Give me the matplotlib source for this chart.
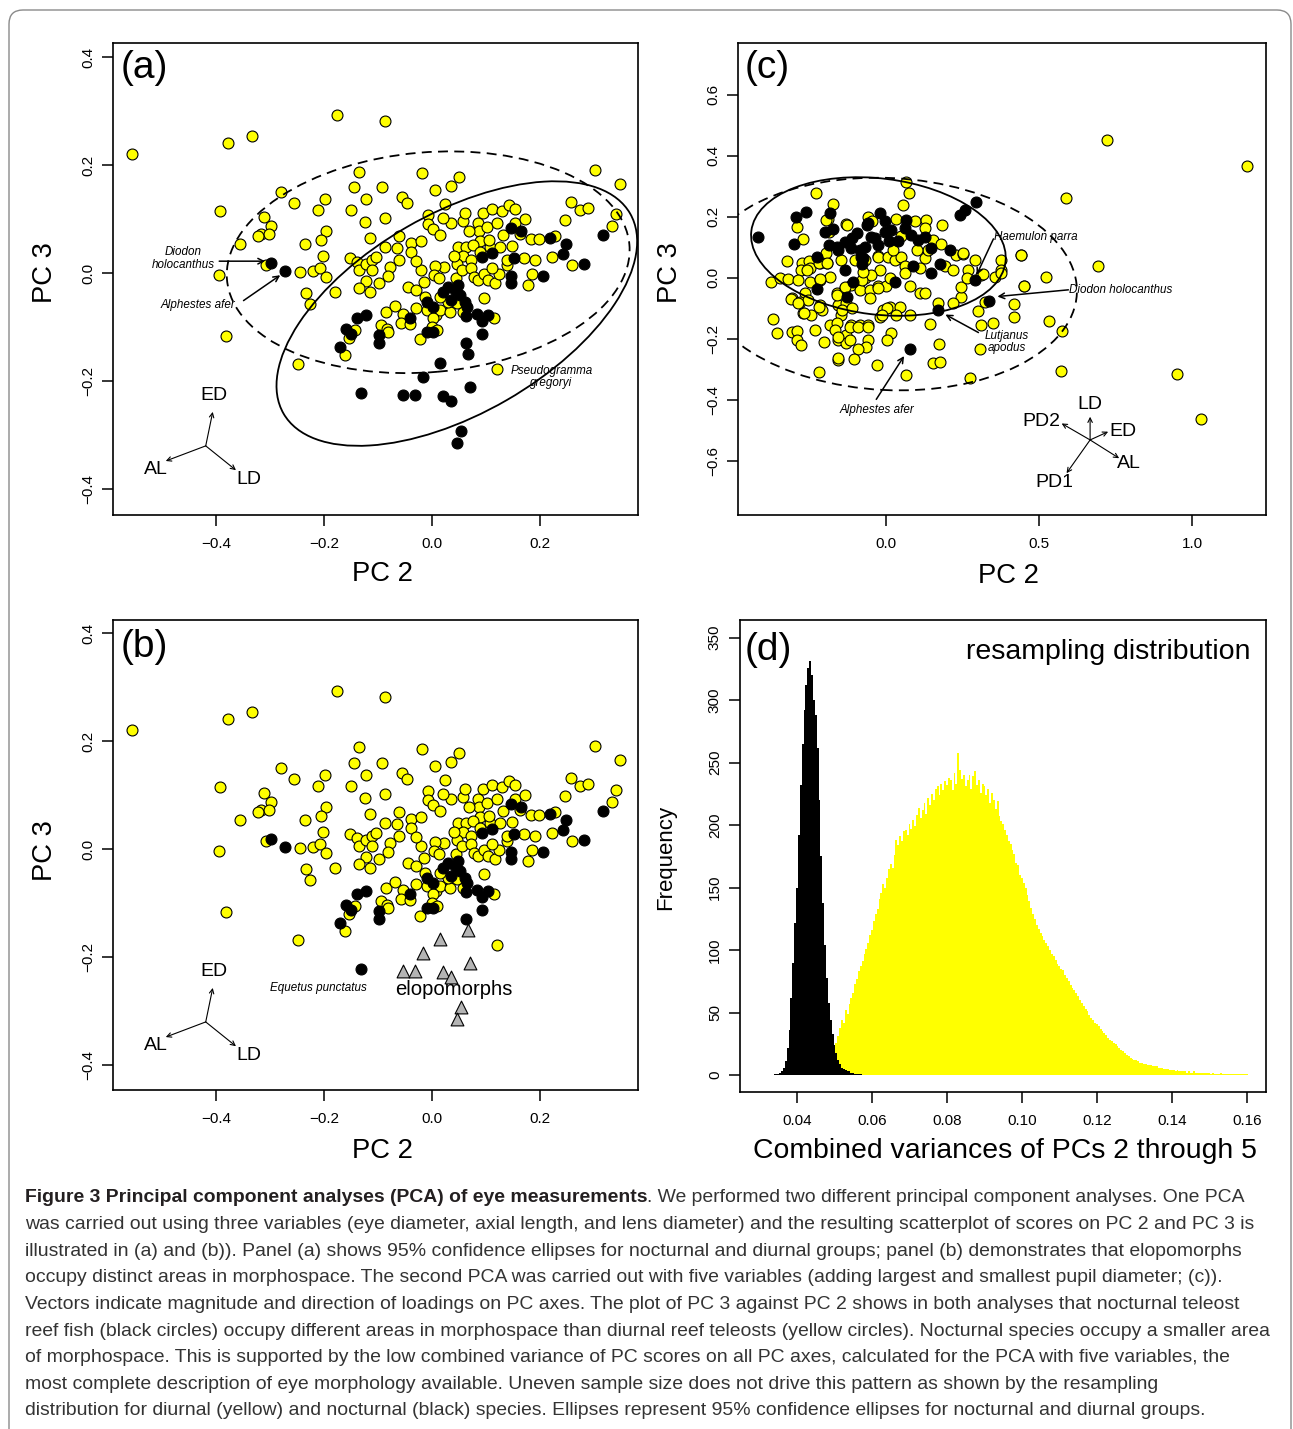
import numpy as np
import matplotlib
matplotlib.use("Agg")
import matplotlib.pyplot as plt
from matplotlib.patches import Ellipse, FancyBboxPatch
from matplotlib.transforms import IdentityTransform
from matplotlib import font_manager

plt.rcParams['font.family'] = ['Liberation Sans', 'DejaVu Sans']

# ---------------- data: PCA with three variables (panels a, b) ----------------
diurnal_a = [
    (-0.555, 0.220), (-0.377, 0.241), (-0.334, 0.254), (-0.176, 0.293), (-0.087, 0.281),
    (-0.135, 0.188), (-0.145, 0.159), (-0.093, 0.159), (-0.279, 0.150), (-0.256, 0.130),
    (-0.199, 0.137), (-0.122, 0.138), (-0.392, 0.115), (-0.212, 0.116), (-0.150, 0.117),
    (-0.312, 0.104), (-0.298, 0.088), (-0.317, 0.073), (-0.302, 0.072), (-0.322, 0.069),
    (-0.196, 0.078), (-0.205, 0.061), (-0.124, 0.094), (-0.087, 0.102), (-0.114, 0.065),
    (-0.355, 0.053), (-0.235, 0.053), (-0.201, 0.031), (-0.307, 0.014), (-0.245, 0.002),
    (-0.220, 0.004), (-0.207, 0.010), (-0.196, -0.008), (-0.395, -0.004), (-0.151, 0.027),
    (-0.138, 0.020), (-0.135, 0.005), (-0.122, 0.017), (-0.111, 0.025), (-0.104, 0.030),
    (-0.111, 0.006), (-0.087, 0.049), (-0.122, -0.015), (-0.136, -0.027), (-0.099, -0.018),
    (-0.114, -0.035), (-0.233, -0.037), (-0.226, -0.058), (-0.180, -0.035), (-0.382, -0.117),
    (-0.248, -0.169), (-0.143, -0.106), (-0.154, -0.120), (-0.161, -0.152), (-0.086, -0.072),
    (-0.095, -0.096), (-0.083, -0.103),
    (-0.018, 0.186), (0.050, 0.177), (0.036, 0.162), (0.006, 0.153), (0.302, 0.191), (0.349, 0.164),
    (-0.055, 0.141), (-0.047, 0.129), (-0.007, 0.107), (-0.007, 0.091), (0.002, 0.081),
    (0.015, 0.070), (0.035, 0.092), (0.057, 0.097), (0.086, 0.093), (0.087, 0.077),
    (0.095, 0.112), (0.111, 0.118), (0.130, 0.114), (0.143, 0.126), (0.153, 0.118),
    (0.102, 0.086), (0.153, 0.092), (0.088, 0.060), (-0.062, 0.069), (-0.038, 0.055),
    (-0.038, 0.039), (-0.065, 0.046), (-0.061, 0.025), (-0.077, 0.012), (-0.081, -0.006),
    (0.048, 0.049), (0.063, 0.049), (0.076, 0.052), (0.089, 0.039), (0.107, 0.048),
    (0.126, 0.048), (0.149, 0.050), (0.058, 0.031), (0.072, 0.024), (0.046, 0.017),
    (0.023, 0.012), (0.006, 0.013), (-0.020, 0.006), (-0.014, -0.016), (0.003, -0.004),
    (0.013, -0.009), (0.044, -0.009), (0.055, 0.006), (0.073, 0.009), (0.077, -0.007),
    (0.086, -0.013), (0.096, -0.002), (0.103, -0.013), (0.117, -0.019), (0.125, -0.002),
    (0.138, 0.015), (0.138, 0.024), (0.171, 0.027), (0.191, 0.025), (0.183, 0.063),
    (0.198, 0.063), (0.228, 0.069), (0.223, 0.030), (0.259, 0.014), (0.247, 0.098),
    (0.257, 0.131), (0.274, 0.117), (0.288, 0.120), (0.341, 0.109), (0.333, 0.087),
    (0.185, -0.001), (0.177, -0.023), (0.096, -0.046), (-0.044, -0.025), (-0.030, -0.031),
    (-0.013, -0.044), (-0.069, -0.061), (-0.053, -0.075), (-0.030, -0.065), (-0.010, -0.068),
    (0.008, -0.078), (0.015, -0.069), (0.033, -0.072), (0.057, -0.073), (0.046, -0.056),
    (0.030, -0.053), (0.015, -0.044), (-0.057, -0.093), (-0.041, -0.095), (-0.082, -0.109),
    (0.114, -0.084), (0.001, -0.084), (0.000, -0.099), (0.010, -0.106), (-0.023, -0.123),
    (0.120, -0.178), (0.020, 0.102), (0.062, 0.112), (0.120, 0.092), (0.131, 0.070),
    (0.163, 0.072), (0.105, 0.062), (0.040, 0.032), (-0.030, 0.022), (0.112, 0.010),
    (0.172, 0.100), (-0.020, 0.060), (0.025, 0.128), (0.068, 0.078),
]
nocturnal_a = [
    (-0.298, 0.018), (-0.273, 0.003), (-0.139, -0.083), (-0.123, -0.077), (-0.160, -0.103),
    (-0.150, -0.112), (-0.170, -0.136), (-0.098, -0.115), (-0.099, -0.129),
    (0.146, 0.083), (0.164, 0.078), (0.112, 0.038), (0.093, 0.029), (0.151, 0.027),
    (0.219, 0.064), (0.249, 0.054), (0.242, 0.035), (0.281, 0.017), (0.317, 0.071),
    (0.205, -0.005), (0.146, -0.006), (0.146, -0.018),
    (0.030, -0.025), (0.043, -0.031), (0.052, -0.041), (0.036, -0.050), (0.061, -0.053),
    (0.064, -0.062), (0.049, -0.022), (0.021, -0.035), (-0.010, -0.053), (0.002, -0.062),
    (-0.041, -0.084), (0.063, -0.080), (0.083, -0.075), (0.092, -0.088), (0.103, -0.078),
    (-0.010, -0.109), (0.002, -0.109), (0.092, -0.113), (0.063, -0.129), (-0.131, -0.222),
]
elopomorphs = [
    (0.015, -0.167), (0.067, -0.150), (-0.017, -0.193), (0.070, -0.211), (-0.054, -0.226),
    (-0.031, -0.226), (0.020, -0.228), (0.035, -0.237), (0.054, -0.293), (0.046, -0.315),
]
# 95% ellipses: centre x, centre y, width, height, angle (deg)
ellipse_diurnal_a = (-0.007, 0.020, 0.748, 0.407, 5)
ellipse_nocturnal_a = (0.046, -0.075, 0.741, 0.370, 30)
loadings_a = {'ED': (-0.406, -0.257), 'AL': (-0.493, -0.348), 'LD': (-0.363, -0.365)}
loading_origin_a = (-0.419, -0.320)
loading_labels_a = {'ED': (-0.404, -0.226), 'AL': (-0.511, -0.363), 'LD': (-0.339, -0.383)}

# ---------------- data: PCA with five variables (panel c) ----------------
diurnal_c = [
    (0.066, 0.313), (0.074, 0.280), (-0.229, 0.280), (-0.175, 0.242), (0.057, 0.239),
    (-0.292, 0.168), (-0.270, 0.127), (-0.190, 0.192), (-0.130, 0.176), (-0.059, 0.201),
    (0.034, 0.192), (0.094, 0.185), (0.132, 0.190), (0.126, 0.163), (0.183, 0.172),
    (0.050, 0.138), (0.154, 0.125), (-0.197, 0.190), (-0.185, 0.149), (-0.128, 0.174),
    (-0.047, 0.185), (-0.025, 0.072), (-0.323, 0.056), (-0.276, 0.050), (-0.252, 0.054),
    (-0.217, 0.048), (-0.192, 0.050), (-0.197, 0.083), (-0.146, 0.059), (-0.102, 0.059),
    (-0.070, 0.059), (-0.026, 0.070), (0.007, 0.070), (0.028, 0.059), (0.050, 0.070),
    (0.023, 0.092), (0.061, 0.039), (0.110, 0.032), (0.126, 0.065), (0.137, 0.092),
    (0.192, 0.039), (0.219, 0.026), (0.227, 0.075), (0.252, 0.079), (0.290, 0.059),
    (0.268, 0.026), (0.311, 0.010), (0.355, 0.004), (0.377, 0.059), (0.377, 0.026),
    (0.442, 0.075), (0.450, -0.026), (0.418, -0.085), (0.418, -0.127), (0.350, -0.149),
    (0.311, -0.154), (0.301, -0.110), (0.322, -0.078), (0.246, -0.061), (0.219, -0.083),
    (0.246, -0.030), (0.263, -0.001), (0.170, -0.083),
    (-0.375, -0.012), (-0.347, -0.001), (-0.321, -0.004), (-0.277, 0.026), (-0.249, 0.032),
    (-0.287, -0.007), (-0.249, -0.012), (-0.217, -0.007), (-0.184, 0.004), (-0.266, -0.050),
    (-0.309, -0.067), (-0.282, -0.078), (-0.255, -0.072), (-0.217, -0.089), (-0.211, -0.105),
    (-0.271, -0.114), (-0.244, -0.121), (-0.160, -0.048), (-0.135, -0.034), (-0.157, -0.089),
    (-0.130, -0.083), (-0.146, -0.121), (-0.113, -0.023), (-0.086, -0.039), (-0.053, -0.039),
    (-0.053, -0.067), (-0.026, -0.028), (0.001, -0.026), (0.012, -0.001), (-0.021, 0.026),
    (-0.070, -0.001), (-0.048, 0.010), (0.077, -0.028), (0.110, -0.050), (0.126, -0.050),
    (0.061, 0.015), (-0.010, -0.105), (0.012, -0.094), (-0.021, -0.127), (0.045, -0.094),
    (0.034, -0.121), (0.077, -0.121),
    (-0.369, -0.135), (-0.355, -0.179), (-0.309, -0.176), (-0.290, -0.173), (-0.290, -0.203),
    (-0.277, -0.220), (-0.233, -0.170), (-0.203, -0.209), (-0.184, -0.154), (-0.162, -0.149),
    (-0.168, -0.170), (-0.157, -0.203), (-0.130, -0.187), (-0.130, -0.214), (-0.113, -0.154),
    (-0.086, -0.154), (-0.059, -0.154), (-0.059, -0.203), (-0.064, -0.225), (-0.092, -0.234),
    (-0.157, -0.269), (-0.105, -0.267), (-0.219, -0.307), (-0.028, -0.285), (0.017, -0.181),
    (0.004, -0.203), (0.066, -0.318), (0.145, -0.152), (0.173, -0.216), (0.154, -0.278),
    (0.175, -0.274), (0.276, -0.327), (0.308, -0.234),
    (0.722, 0.452), (1.179, 0.368), (0.588, 0.263), (0.694, 0.040), (0.441, 0.076),
    (0.523, 0.002), (0.451, -0.025), (0.532, -0.142), (0.574, -0.173), (0.572, -0.304),
    (0.951, -0.315), (1.028, -0.462), (0.375, 0.017), (0.316, 0.013), (0.253, 0.081),
    (-0.311, -0.070), (-0.287, -0.081), (-0.268, -0.114), (-0.218, -0.094), (-0.161, -0.056),
    (-0.134, -0.031), (-0.145, -0.105), (-0.112, -0.099), (-0.079, -0.007), (-0.074, 0.021),
    (-0.025, -0.034), (0.002, -0.099), (-0.014, -0.121), (-0.118, -0.160), (-0.091, -0.160),
    (-0.058, -0.160), (-0.156, -0.192), (-0.118, -0.203), (-0.156, -0.263), (-0.216, -0.004),
    (-0.218, 0.050), (-0.194, 0.048), (-0.257, 0.026), (0.100, 0.090), (0.180, 0.110),
]
nocturnal_c = [
    (-0.417, 0.135), (-0.294, 0.201), (-0.261, 0.217), (-0.300, 0.110), (-0.183, 0.212),
    (-0.199, 0.152), (-0.172, 0.160), (-0.188, 0.108), (-0.161, 0.103), (-0.134, 0.119),
    (-0.096, 0.147), (-0.085, 0.092), (-0.226, 0.070), (-0.134, 0.026), (-0.226, -0.037),
    (-0.128, -0.061), (-0.107, -0.012), (-0.063, 0.174), (-0.020, 0.212), (-0.036, 0.130),
    (-0.074, 0.065), (-0.004, 0.185), (0.017, 0.157), (-0.048, 0.135), (-0.026, 0.108),
    (-0.070, 0.103), (-0.081, 0.070), (-0.078, 0.046), (-0.157, 0.092), (0.028, -0.012),
    (0.066, 0.190), (0.061, 0.163), (0.083, 0.141), (0.105, 0.125), (0.126, 0.135),
    (0.148, 0.097), (0.208, 0.090), (0.088, 0.039), (0.146, 0.017), (0.175, 0.046),
    (0.290, -0.007), (0.337, -0.074), (0.170, -0.105), (0.077, -0.233), (0.241, 0.207),
    (0.257, 0.223), (0.295, 0.250), (-0.004, 0.152), (0.040, 0.120), (-0.113, 0.097),
    (-0.059, 0.179), (0.010, 0.120), (-0.110, 0.130),
]
ellipse_diurnal_c = (0.007, -0.020, 1.235, 0.695, -3)
ellipse_nocturnal_c = (-0.025, 0.103, 0.837, 0.446, -7)
loading_origin_c = (0.667, -0.531)
loadings_c = {'LD': (0.667, -0.455), 'PD2': (0.574, -0.477), 'ED': (0.726, -0.504),
              'AL': (0.762, -0.591), 'PD1': (0.590, -0.640)}
loading_labels_c = {'LD': (0.667, -0.416), 'PD2': (0.507, -0.471), 'ED': (0.775, -0.504),
                    'AL': (0.795, -0.608), 'PD1': (0.549, -0.671)}

# ---------------- data: resampling distribution (panel d) ----------------
noct_bin_start = 0.03375
noct_bin_width = 0.0005
noct_counts = [1, 1, 1, 2, 3, 6, 11, 22, 36, 62, 90, 122, 150, 192, 232, 265, 292, 312,
               326, 331, 320, 300, 288, 262, 220, 175, 138, 104, 78, 58, 44, 33, 24, 18,
               12, 9, 6, 5, 4, 3, 3, 2, 2, 1, 1, 1, 1, 0]
diur_bin_start = 0.04975
diur_bin_width = 0.0005
diur_counts = [
    3, 26, 31, 38, 44, 42, 52, 49, 57, 62,
    66, 73, 77, 83, 87, 91, 97, 101, 106, 112,
    116, 123, 129, 133, 141, 146, 153, 150, 158, 165,
    169, 166, 176, 188, 184, 191, 187, 195, 196, 192,
    201, 197, 204, 199, 208, 214, 206, 212, 218, 209,
    222, 216, 225, 220, 229, 231, 224, 233, 228, 235,
    232, 238, 236, 228, 242, 233, 258, 244, 237, 240,
    231, 236, 240, 229, 239, 243, 232, 236, 226, 233,
    231, 224, 229, 218, 226, 220, 213, 219, 207, 203,
    201, 196, 192, 187, 185, 180, 177, 170, 168, 160,
    158, 154, 150, 144, 139, 134, 129, 125, 120, 117,
    114, 111, 108, 106, 103, 100, 97, 95, 92, 89,
    87, 85, 84, 80, 78, 75, 72, 70, 68, 66,
    63, 60, 58, 55, 53, 51, 48, 46, 44, 42,
    41, 39, 37, 35, 34, 32, 30, 28, 27, 26,
    25, 23, 22, 20, 19, 18, 16, 15, 14, 13,
    12, 12, 11, 10, 10, 9, 9, 8, 8, 8,
    7, 7, 7, 6, 6, 6, 5, 5, 5, 4,
    4, 4, 3, 4, 3, 3, 3, 3, 2, 3,
    2, 2, 3, 2, 2, 2, 2, 2, 2, 2,
    2, 1, 2, 1, 1, 1, 2, 1, 1, 1,
    1, 1, 1, 1, 1, 1, 1, 1, 1, 1,
    1,
]

x_ticks_ab = [-0.4, -0.2, 0.0, 0.2]
y_ticks_ab = [-0.4, -0.2, 0.0, 0.2, 0.4]
x_ticks_c = [0.0, 0.5, 1.0]
y_ticks_c = [-0.6, -0.4, -0.2, 0.0, 0.2, 0.4, 0.6]
x_ticks_d = [0.04, 0.06, 0.08, 0.10, 0.12, 0.14, 0.16]
y_ticks_d = [0, 50, 100, 150, 200, 250, 300, 350]

caption_bold = "Figure 3 Principal component analyses (PCA) of eye measurements"
caption_lines = [
    ". We performed two different principal component analyses. One PCA",
    "was carried out using three variables (eye diameter, axial length, and lens diameter) and the resulting scatterplot of scores on PC 2 and PC 3 is",
    "illustrated in (a) and (b)). Panel (a) shows 95% confidence ellipses for nocturnal and diurnal groups; panel (b) demonstrates that elopomorphs",
    "occupy distinct areas in morphospace. The second PCA was carried out with five variables (adding largest and smallest pupil diameter; (c)).",
    "Vectors indicate magnitude and direction of loadings on PC axes. The plot of PC 3 against PC 2 shows in both analyses that nocturnal teleost",
    "reef fish (black circles) occupy different areas in morphospace than diurnal reef teleosts (yellow circles). Nocturnal species occupy a smaller area",
    "of morphospace. This is supported by the low combined variance of PC scores on all PC axes, calculated for the PCA with five variables, the",
    "most complete description of eye morphology available. Uneven sample size does not drive this pattern as shown by the resampling",
    "distribution for diurnal (yellow) and nocturnal (black) species. Ellipses represent 95% confidence ellipses for nocturnal and diurnal groups.",
]

# ---------------- figure ----------------
W, H = 1293, 1429
DPI = 100
fig = plt.figure(figsize=(W / DPI, H / DPI), dpi=DPI)
fig.patch.set_facecolor('white')


def fx(x):
    return x / W


def fy(y):
    return 1 - y / H


def add_ax(l, t, r, b):
    return fig.add_axes([l / W, 1 - b / H, (r - l) / W, (b - t) / H])


YEL = '#FFFF00'
TICK_FS = 11
LAB_FS = 19.7


def style_axes(ax, xt, yt, xfmt, yfmt):
    ax.set_xticks(xt)
    ax.set_yticks(yt)
    ax.set_xticklabels([xfmt(v) for v in xt], fontsize=TICK_FS)
    ax.set_yticklabels([yfmt(v) for v in yt], fontsize=TICK_FS, rotation=90, va='center')
    ax.tick_params(axis='x', length=8, width=1.1, pad=8, direction='out')
    ax.tick_params(axis='y', length=8, width=1.1, pad=5, direction='out')
    for s in ax.spines.values():
        s.set_linewidth(1.2)


def f1(v):
    return f"{v:.1f}".replace('-', '\u2212')


def f2(v):
    return f"{v:.2f}"


def scatter_pts(ax, pts, face, marker='o', s=62, z=3):
    arr = np.array(pts)
    ax.scatter(arr[:, 0], arr[:, 1], s=s, c=face, edgecolors='black', linewidths=0.8,
               marker=marker, zorder=z)


def draw_ellipse(ax, e, dashed):
    cx, cy, w, h, ang = e
    ls = (0, (5.5, 3.5)) if dashed else '-'
    ax.add_patch(Ellipse((cx, cy), w, h, angle=ang, fill=False, lw=1.3, ls=ls,
                         edgecolor='black', zorder=4))


def arrow(ax, start, end, lw=0.8, ms=9):
    ax.annotate('', xy=end, xytext=start,
                arrowprops=dict(arrowstyle='->', lw=lw, color='black',
                                shrinkA=0, shrinkB=0, mutation_scale=ms), zorder=6)


def loadings(ax, origin, tips, labels, fs=14):
    for k, tip in tips.items():
        arrow(ax, origin, tip, lw=0.8, ms=8)
        ax.text(labels[k][0], labels[k][1], k, fontsize=fs, ha='center', va='center', zorder=6)


# ----- panel (a)
axa = add_ax(113, 43, 638, 515)
axa.set_xlim(-0.5907, 0.3815)
axa.set_ylim(-0.448, 0.426)
scatter_pts(axa, diurnal_a, YEL)
scatter_pts(axa, nocturnal_a + elopomorphs, 'black')
draw_ellipse(axa, ellipse_diurnal_a, True)
draw_ellipse(axa, ellipse_nocturnal_a, False)
loadings(axa, loading_origin_a, loadings_a, loading_labels_a)
axa.text(-0.460, 0.027, "Diodon\nholocanthus", fontsize=8.4, style='italic', ha='center',
         va='center', linespacing=1.05, zorder=6)
arrow(axa, (-0.394, 0.022), (-0.309, 0.022), lw=1.1, ms=10)
axa.text(-0.433, -0.059, "Alphestes afer", fontsize=8.4, style='italic', ha='center',
         va='center', zorder=6)
arrow(axa, (-0.349, -0.051), (-0.281, -0.004), lw=1.1, ms=10)
axa.text(0.221, -0.192, "Pseudogramma\ngregoryi", fontsize=8.4, style='italic', ha='center',
         va='center', linespacing=1.0, zorder=6)
style_axes(axa, x_ticks_ab, y_ticks_ab, f1, f1)

# ----- panel (b)
axb = add_ax(113, 620, 638, 1090)
axb.set_xlim(-0.5907, 0.3815)
axb.set_ylim(-0.446, 0.424)
scatter_pts(axb, diurnal_a, YEL)
scatter_pts(axb, nocturnal_a, 'black')
scatter_pts(axb, elopomorphs, '#B4B4B4', marker='^', s=85)
loadings(axb, loading_origin_a, loadings_a, loading_labels_a)
axb.text(-0.210, -0.258, "Equetus punctatus", fontsize=8.4, style='italic', ha='center',
         va='center', zorder=6)
axb.text(0.041, -0.260, "elopomorphs", fontsize=14.6, ha='center', va='center', zorder=6)
style_axes(axb, x_ticks_ab, y_ticks_ab, f1, f1)

# ----- panel (c)
axc = add_ax(738, 43, 1266, 515)
axc.set_xlim(-0.484, 1.242)
axc.set_ylim(-0.777, 0.770)
scatter_pts(axc, diurnal_c, YEL)
scatter_pts(axc, nocturnal_c, 'black')
draw_ellipse(axc, ellipse_diurnal_c, True)
draw_ellipse(axc, ellipse_nocturnal_c, False)
loadings(axc, loading_origin_c, loadings_c, loading_labels_c)
axc.text(0.354, 0.135, "Haemulon parra", fontsize=8.4, style='italic', ha='left',
         va='center', zorder=6)
arrow(axc, (0.351, 0.128), (0.296, 0.010), lw=1.1, ms=10)
axc.text(0.599, -0.039, "Diodon holocanthus", fontsize=8.4, style='italic', ha='left',
         va='center', zorder=6)
arrow(axc, (0.596, -0.039), (0.364, -0.061), lw=1.1, ms=10)
axc.text(0.396, -0.211, "Lutjanus\napodus", fontsize=8.4, style='italic', ha='center',
         va='center', linespacing=1.0, zorder=6)
arrow(axc, (0.302, -0.179), (0.194, -0.120), lw=1.1, ms=10)
axc.text(-0.029, -0.433, "Alphestes afer", fontsize=8.4, style='italic', ha='center',
         va='center', zorder=6)
arrow(axc, (-0.032, -0.398), (0.059, -0.256), lw=1.1, ms=10)
style_axes(axc, x_ticks_c, y_ticks_c, f1, f1)

# ----- panel (d)
axd = add_ax(740, 620, 1266, 1092)
axd.set_xlim(0.0248, 0.1651)
axd.set_ylim(-13.6, 364)
d_edges = diur_bin_start + diur_bin_width * np.arange(len(diur_counts) + 1)
n_edges = noct_bin_start + noct_bin_width * np.arange(len(noct_counts) + 1)
axd.stairs(diur_counts, d_edges, fill=True, color=YEL, lw=0, zorder=2)
axd.stairs(noct_counts, n_edges, fill=True, color='black', lw=0, zorder=3)
style_axes(axd, x_ticks_d, y_ticks_d, f2, lambda v: f"{v:d}")
fig.text(fx(1250), fy(652), "resampling distribution", fontsize=20.5, ha='right', va='center')

# ----- panel letters and axis labels
for (x, y), lab in [((121, 68), '(a)'), ((745, 68), '(c)'), ((121, 647), '(b)'), ((745, 650), '(d)')]:
    fig.text(fx(x), fy(y), lab, fontsize=28, ha='left', va='center')
for (x, y) in [(382, 574), (1008, 576), (382, 1151)]:
    fig.text(fx(x), fy(y), "PC 2", fontsize=LAB_FS, ha='center', va='center')
for (x, y) in [(45, 273), (670, 273), (45, 851)]:
    fig.text(fx(x), fy(y), "PC 3", fontsize=LAB_FS, ha='center', va='center', rotation=90)
fig.text(fx(1005), fy(1151), "Combined variances of PCs 2 through 5", fontsize=20.4,
         ha='center', va='center')
fig.text(fx(666), fy(857), "Frequency", fontsize=16, ha='center', va='center', rotation=90)

# ----- caption
names = {f.name for f in font_manager.fontManager.ttflist}
cap_family = 'Liberation Sans'
for cand in ['Liberation Sans Narrow', 'DejaVu Sans Condensed', 'Liberation Sans']:
    if cand in names:
        cap_family = cand
        break
renderer = fig.canvas.get_renderer()
probe = fig.text(0, 0, caption_lines[-1], fontsize=12, family=cap_family)
wpx = probe.get_window_extent(renderer).width
probe.remove()
cap_fs = 12 * (1185.0 / wpx)
x0 = 25
line_y0 = 1198
line_dy = 26.6
bt = fig.text(fx(x0), fy(line_y0), caption_bold, fontsize=cap_fs, family=cap_family,
              weight='bold', color='#231F20', ha='left', va='center')
bw = bt.get_window_extent(renderer).width
for i, line in enumerate(caption_lines):
    xs = x0 + (bw if i == 0 else 0)
    fig.text(fx(xs), fy(line_y0 + i * line_dy), line, fontsize=cap_fs, family=cap_family,
             color='#333333', ha='left', va='center')

# ----- rounded frame
frame = FancyBboxPatch((9, -30), 1282, H - 10 + 30, boxstyle="round,pad=0,rounding_size=14",
                       transform=IdentityTransform(), fill=False, edgecolor='#8A8A8A', lw=1.0)
fig.patches.append(frame)

fig.savefig("out.png", dpi=DPI)
